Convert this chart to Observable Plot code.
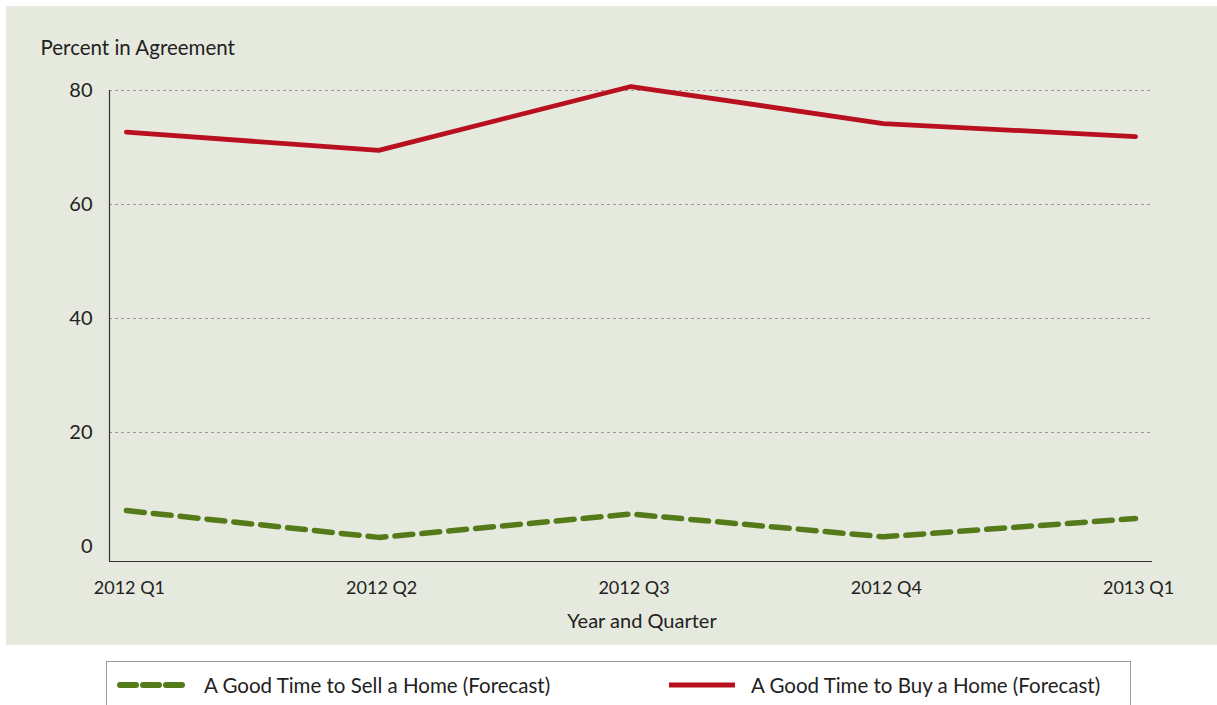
<!DOCTYPE html>
<html>
<head>
<meta charset="utf-8">
<script src="https://cdn.jsdelivr.net/npm/d3@7"></script>
<script src="https://cdn.jsdelivr.net/npm/@observablehq/plot@0.6"></script>
<style>
  html, body { margin: 0; padding: 0; background: #ffffff; width: 1217px; height: 705px; overflow: hidden; }
  #panel { position: absolute; left: 6px; top: 6px; width: 1211px; height: 639px; background: #e6e9dd; }
  #legend { position: absolute; left: 106px; top: 661px; width: 1025px; height: 60px; border: 1px solid #9a9a9a; box-sizing: border-box; background: #fff; font-family: Lato, "Open Sans", sans-serif; font-size: 20.5px; color: #222; }
  .item { position: absolute; top: 11px; display: flex; align-items: center; }
  .item span { white-space: nowrap; }
</style>
</head>
<body>
<div id="panel"></div>
<div id="legend">
  <div class="item" style="left:9px"><svg width="72" height="12"><line x1="4" y1="6" x2="68" y2="6" stroke="#557a1a" stroke-width="6" stroke-linecap="round" stroke-dasharray="16,7"/></svg><span id="lab0" style="margin-left:16px"></span></div>
  <div class="item" style="left:560px"><svg width="70" height="12"><line x1="2" y1="6" x2="68" y2="6" stroke="#b8101f" stroke-width="5"/></svg><span id="lab1" style="margin-left:14px"></span></div>
</div>
<script>
const quarters = ["2012 Q1", "2012 Q2", "2012 Q3", "2012 Q4", "2013 Q1"];
const buyValues = [72.7, 69.5, 80.7, 74.2, 71.9];
const sellValues = [6.3, 1.6, 5.7, 1.7, 4.9];
const seriesNames = ["A Good Time to Sell a Home (Forecast)", "A Good Time to Buy a Home (Forecast)"];
const yTicks = [0, 20, 40, 60, 80];
const gridTicks = [20, 40, 60, 80];
const yTitle = "Percent in Agreement";
const xTitle = "Year and Quarter";

document.getElementById("lab0").textContent = seriesNames[0];
document.getElementById("lab1").textContent = seriesNames[1];

const idx = quarters.map((q, i) => i);
const buy = idx.map(i => ({i, v: buyValues[i]}));
const sell = idx.map(i => ({i, v: sellValues[i]}));
const yMin = -2.63;
const xPad = 0.067;

const chart = Plot.plot({
  width: 1211,
  height: 639,
  marginLeft: 103,
  marginRight: 65,
  marginTop: 84,
  marginBottom: 84,
  style: {background: "transparent", fontFamily: "Lato, 'Open Sans', sans-serif", fontSize: "19px", color: "#222"},
  x: {type: "linear", domain: [-xPad, quarters.length - 1 + xPad]},
  y: {domain: [yMin, 80]},
  marks: [
    Plot.gridY(gridTicks, {stroke: "#9a9a9a", strokeOpacity: 1, strokeDasharray: "3,3", strokeWidth: 1}),
    Plot.ruleY([yMin], {stroke: "#333", strokeWidth: 1.2}),
    Plot.ruleX([-xPad], {stroke: "#333", strokeWidth: 1.2}),
    Plot.axisY(yTicks, {tickSize: 0, tickPadding: 17, label: null, fill: "#222", fontSize: 20}),
    Plot.axisX(idx, {tickSize: 0, tickPadding: 20, label: null, tickFormat: i => quarters[i], fill: "#222", fontSize: 18, dx: 3}),
    Plot.line(sell, {x: "i", y: "v", stroke: "#557a1a", strokeWidth: 5.5, strokeDasharray: "18,9", strokeLinecap: "round", strokeLinejoin: "round"}),
    Plot.line(buy, {x: "i", y: "v", stroke: "#b8101f", strokeWidth: 4.8, strokeLinecap: "round", strokeLinejoin: "round"}),
    Plot.text([yTitle], {frameAnchor: "top-left", dx: -69, dy: -42, textAnchor: "start", lineAnchor: "middle", fill: "#222", fontSize: 20.5}),
    Plot.text([xTitle], {frameAnchor: "bottom", dx: 11, dy: 60, lineAnchor: "middle", fill: "#222", fontSize: 20})
  ]
});
document.getElementById("panel").appendChild(chart);
</script>
</body>
</html>
